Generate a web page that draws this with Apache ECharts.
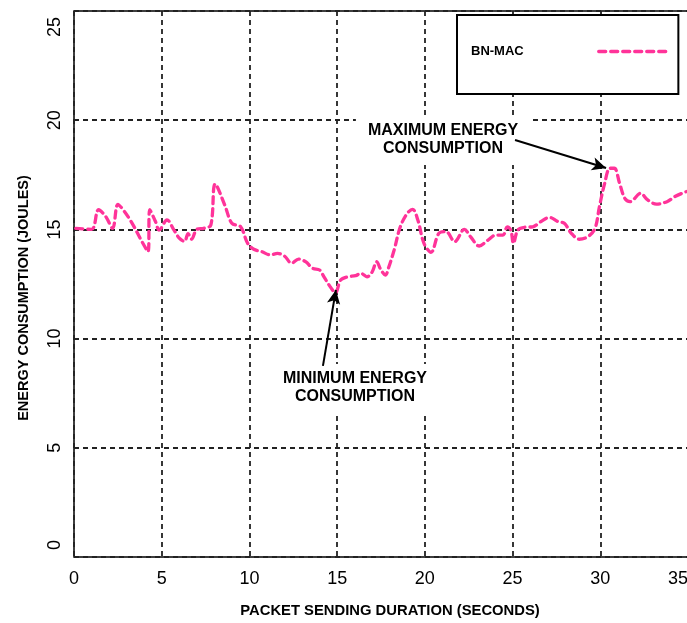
<!DOCTYPE html>
<html>
<head>
<meta charset="utf-8">
<script src="https://cdn.jsdelivr.net/npm/echarts@6/dist/echarts.min.js"></script>
<style>html,body{margin:0;padding:0;background:#fff}#c{width:687px;height:623px}</style>
</head>
<body>
<div id="c"></div>
<script>
// Packet sending duration (seconds)
var durations = [0.1, 1.0, 1.4, 1.8, 2.2, 2.5, 2.8, 3.3, 3.9, 4.22, 4.32, 4.65, 4.85, 5.3, 5.7, 6.0, 6.3, 6.5, 6.7, 7.0, 7.4, 7.8, 8.05, 8.6, 9.0, 9.5, 9.9, 10.25, 10.7, 11.2, 11.6, 12.0, 12.4, 12.8, 13.2, 13.6, 14.0, 14.25, 14.6, 14.9, 15.2, 15.6, 16.05, 16.35, 16.7, 17.0, 17.25, 17.5, 17.75, 17.95, 18.25, 18.6, 19.0, 19.3, 19.6, 19.95, 20.35, 20.8, 21.2, 21.7, 22.25, 22.6, 23.1, 23.6, 24.05, 24.45, 24.7, 24.9, 25.05, 25.3, 25.7, 26.15, 26.6, 27.1, 27.6, 27.95, 28.35, 28.8, 29.3, 29.7, 29.95, 30.25, 30.55, 30.8, 31.1, 31.4, 31.7, 32.3, 32.7, 33.2, 33.8, 34.25, 34.8, 35.0];
// Energy consumption (joules), BN-MAC
var energy = [15.05, 15.0, 15.9, 15.6, 15.05, 16.15, 15.9, 15.3, 14.4, 13.98, 15.9, 15.35, 14.97, 15.43, 14.97, 14.6, 14.45, 14.8, 14.55, 15.0, 15.05, 15.2, 17.08, 16.1, 15.28, 15.12, 14.36, 14.09, 13.98, 13.83, 13.9, 13.78, 13.45, 13.64, 13.52, 13.22, 13.14, 12.83, 12.38, 12.1, 12.68, 12.83, 12.88, 12.99, 12.83, 13.06, 13.52, 13.14, 12.91, 13.29, 14.06, 15.12, 15.74, 15.92, 15.43, 14.36, 13.95, 14.82, 14.9, 14.44, 15.0, 14.67, 14.24, 14.51, 14.74, 14.74, 15.12, 14.97, 14.36, 14.97, 15.1, 15.12, 15.35, 15.55, 15.35, 15.28, 14.82, 14.55, 14.67, 15.05, 16.04, 17.11, 17.8, 17.8, 17.11, 16.42, 16.27, 16.65, 16.35, 16.16, 16.27, 16.5, 16.7, 16.75];
var seriesName = 'BN-MAC';
var xTicks = [0, 5, 10, 15, 20, 25, 30, 35];
var yTicks = [0, 5, 10, 15, 20, 25];
var xTitle = 'PACKET SENDING DURATION (SECONDS)';
var yTitle = 'ENERGY CONSUMPTION (JOULES)';
var maxNote = 'MAXIMUM ENERGY\nCONSUMPTION';
var minNote = 'MINIMUM ENERGY\nCONSUMPTION';
var maxArrow = [[25.14, 19.09], [30.33, 17.81]];
var minArrow = [[14.19, 8.75], [14.93, 12.23]];

var FONT = '"Liberation Sans", Arial, sans-serif';
var points = durations.map(function (d, i) { return [d, energy[i]]; });
var yMin = yTicks[0], yMax = yTicks[yTicks.length - 1];

var chart = echarts.init(document.getElementById('c'), null, {renderer: 'canvas'});
chart.setOption({
  animation: false,
  backgroundColor: '#fff',
  grid: {left: 74, top: 11, width: 614, height: 546, show: true, borderColor: '#000', borderWidth: 1.5,
    backgroundColor: 'transparent', outerBoundsMode: 'none', containLabel: false},
  xAxis: {
    type: 'value', min: xTicks[0], max: xTicks[xTicks.length - 1], interval: 5,
    axisLine: {show: false}, axisTick: {show: false},
    axisLabel: {fontSize: 18, color: '#000', fontFamily: FONT, margin: 13, alignMaxLabel: 'right'},
    splitLine: {show: true, lineStyle: {color: '#222', width: 1.8, type: [5, 4]}}
  },
  yAxis: {
    type: 'value', min: yMin, max: yMax, interval: 5,
    axisLine: {show: false}, axisTick: {show: false},
    axisLabel: {fontSize: 18, color: '#000', fontFamily: FONT, margin: 10, rotate: 90,
      alignMinLabel: 'left', alignMaxLabel: 'right',
      formatter: function (v) {
        if (v === yMax) return '{mx|' + v + '}';
        if (v === yMin) return '{mn|' + v + '}';
        return '' + v;
      },
      rich: {
        mx: {fontSize: 18, fontFamily: FONT, color: '#000', padding: [0, 6, 0, 0]},
        mn: {fontSize: 18, fontFamily: FONT, color: '#000', padding: [0, 0, 0, 7]}
      }
    },
    splitLine: {show: true, lineStyle: {color: '#222', width: 1.8, type: [5, 4]}}
  },
  legend: {
    show: true, data: [seriesName], left: 457, top: 15, align: 'right',
    orient: 'vertical',
    backgroundColor: '#fff', borderColor: '#000', borderWidth: 2,
    padding: [30, 6, 36, 14],
    itemWidth: 72, itemHeight: 14,
    itemStyle: {opacity: 0},
    lineStyle: {color: '#ff3399', width: 3.3, type: [7, 5], cap: 'round'},
    formatter: function (name) { return '{a|' + name + '}'; },
    textStyle: {fontSize: 13, fontWeight: 'bold', color: '#000', fontFamily: FONT,
      rich: {a: {fontSize: 13, fontWeight: 'bold', color: '#000', fontFamily: FONT, padding: [0, 70, 0, 0]}}},
    z: 5
  },
  graphic: [
    {type: 'text', x: 24, y: 298, rotation: Math.PI / 2, z: 10,
      style: {text: yTitle, font: 'bold 14.5px ' + FONT, fill: '#000', align: 'center', verticalAlign: 'middle'}},
    {type: 'text', x: 390, y: 611, z: 10,
      style: {text: xTitle, font: 'bold 14.8px ' + FONT, fill: '#000', align: 'center', verticalAlign: 'middle'}},
    {type: 'text', x: 443, y: 140, z: 1,
      style: {text: maxNote, font: 'bold 16px ' + FONT, fill: '#000', align: 'center', verticalAlign: 'middle', lineHeight: 18, backgroundColor: '#fff', padding: [7, 12]}},
    {type: 'text', x: 355, y: 388, z: 1,
      style: {text: minNote, font: 'bold 16px ' + FONT, fill: '#000', align: 'center', verticalAlign: 'middle', lineHeight: 18, backgroundColor: '#fff', padding: [6, 10]}}
  ],
  series: [{
    name: seriesName, type: 'line', data: points, smooth: 0.35, symbol: 'none',
    lineStyle: {color: '#ff3399', width: 3.3, type: [7, 5], cap: 'round'},
    itemStyle: {color: '#ff3399'},
    z: 3,
    markLine: {
      silent: true, animation: false,
      symbol: ['none', 'arrow'], symbolSize: [10, 14],
      label: {show: false},
      lineStyle: {color: '#000', width: 2, type: 'solid'},
      data: [
        [{coord: maxArrow[0]}, {coord: maxArrow[1]}],
        [{coord: minArrow[0]}, {coord: minArrow[1]}]
      ]
    }
  }]
});
</script>
</body>
</html>
